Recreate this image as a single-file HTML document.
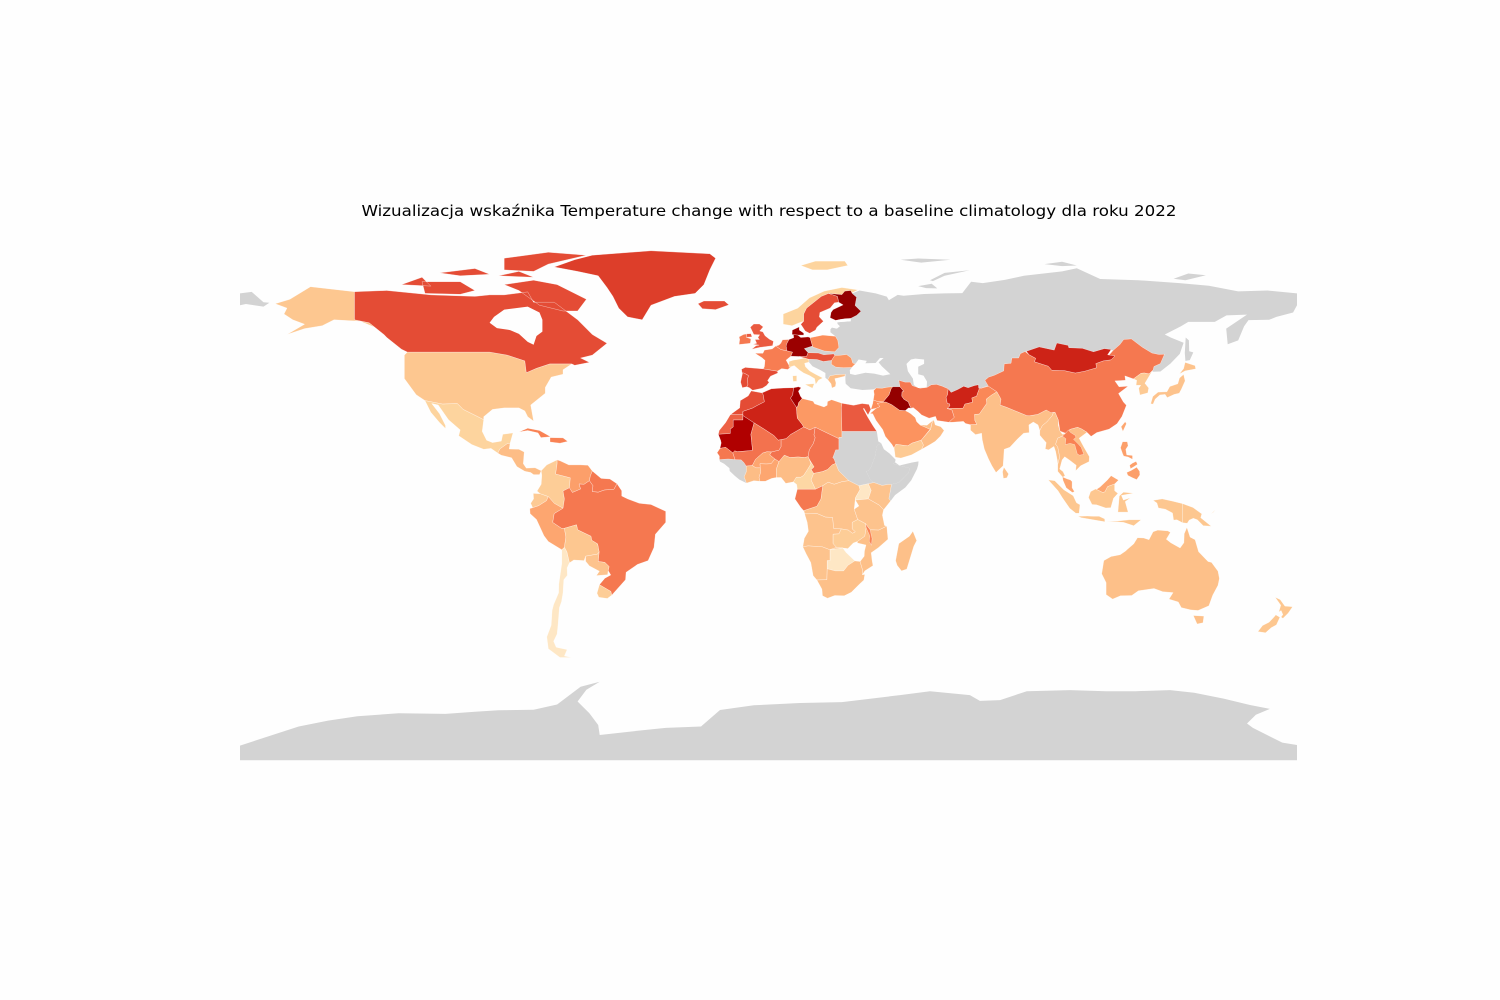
<!DOCTYPE html>
<html><head><meta charset="utf-8"><title>Temperature change map 2022</title>
<style>
html,body{margin:0;padding:0;background:#fefefe;}
svg{display:block;}
</style></head>
<body>
<svg id="chart" width="1500" height="1000" viewBox="0 0 1500 1000" xmlns="http://www.w3.org/2000/svg">
<rect x="0" y="0" width="1500" height="1000" fill="#fefefe"/>
<text x="769" y="216" text-anchor="middle" font-family="DejaVu Sans, Liberation Sans, sans-serif" font-size="15.5" textLength="815" lengthAdjust="spacingAndGlyphs" fill="#000">Wizualizacja wskaźnika Temperature change with respect to a baseline climatology dla roku 2022</text>
<g id="missing"></g>
<g id="countries"></g>
<g id="water"></g>
</svg>
<script>
// ---- data ----
const countryCodes = ["USA","CAN","GRL","MEX","CAM","CUB","HTI","COL","VEN","GUY","ECU","PER","BRA","BOL","PRY","URY","CHL",
"ISL","NOR","SWE","FIN","DNK","GBR","IRL","FRA","BNL","ESP","PRT","DEU","POL","HUN","ROU","ITA","GRC",
"MAR","ESH","DZA","TUN","LBY","EGY","MRT","MLI","NER","TCD","SEN","CIV","BFA","GHA","NGA","CMR","CAF","COG","COD","UGA","KEN","TZA","AGO","ZMB","NAM","BWA","ZAF","MOZ","MWI","MDG",
"SAU","YEM","OMN","IRQ","SYR","JOR","IRN","AFG","PAK","IND","LKA","CHN","MNG","KOR","JPN","TWN","MMR","IDC","LAO","MYS","PHL","IDN","PNG","AUS","NZL"];
const tempValues = [0.95,2.05,2.15,0.75,1.1,1.6,1.6,0.85,1.35,1.7,0.9,1.3,1.7,0.95,1.0,0.85,0.4,
2.05,0.75,2.05,2.85,2.8,1.95,1.7,1.65,1.7,2.05,2.05,2.8,1.5,2.0,1.45,0.75,1.1,
2.05,1.9,2.35,2.75,1.4,1.95,2.65,1.75,1.75,1.75,1.7,1.1,1.3,1.3,1.1,0.7,1.0,1.7,1.0,0.4,1.0,1.0,1.0,0.85,1.0,0.4,1.05,1.05,1.6,1.05,
1.45,0.9,1.1,2.85,1.5,1.5,1.7,2.35,1.55,1.05,1.0,1.7,2.35,0.9,1.0,1.3,1.0,1.05,1.6,1.3,1.35,0.95,0.95,1.05,0.95];
const missingCodes = ["RUS","CHK","SDN","ETH","SOM","GIN","ATA"];
const vMin = 0, vMax = 3;

// ---- geometry (lon, lat) ----
const shapes = {
USA:[[[-124,48],[-123,49],[-95,49],[-89,48],[-83,46],[-82.5,42],[-79,43.5],[-74.5,45],[-70,45],[-67,45],[-70,43],[-70,41.5],[-74,40.5],[-76,37],[-76,35],[-81,31],[-80,25.5],[-82,27],[-83,29],[-85,30],[-90,30],[-94,29.5],[-97,27],[-97,26],[-99,27],[-104,29.5],[-106,31.5],[-111,31.3],[-117,32.5],[-120,34.5],[-124,40]],
 [[-168,65.5],[-163,67],[-156,71.3],[-141,69.6],[-141,60],[-136,59],[-131,55],[-133,57],[-139,59.5],[-148,60],[-152,58],[-158,57],[-164,55],[-158,58.5],[-162,60],[-165,62],[-164,64]]],
CAN:[[[-141,69.6],[-130,70],[-115,68.5],[-100,68],[-95,68.5],[-90,68.5],[-82,69.5],[-80,66],[-73,66],[-65,60],[-60,55],[-55,52],[-60,48],[-64,47],[-61,45.5],[-66,44.5],[-67,45],[-70,45],[-74.5,45],[-79,43.5],[-82.5,42],[-83,46],[-89,48],[-95,49],[-123,49],[-125,50],[-130,54],[-131,55],[-136,59],[-141,60]],
 [[-90,72],[-80,73.5],[-72,72],[-62,67],[-65,63],[-70,63],[-78,65],[-85,70]],
 [[-118,73],[-105,73],[-100,70],[-105,68.7],[-117,69]],
 [[-125,72],[-118,74.5],[-115,71.5]],
 [[-90,77],[-80,76.5],[-75,79],[-62,82],[-75,83],[-90,81]],
 [[-112,76],[-100,77.5],[-95,75.5],[-105,75]],
 [[-92,75],[-80,74.5],[-85,76.5]]],
GRL:[[[-73,78],[-66,80.5],[-60,82],[-40,83.5],[-20,82.5],[-18,81],[-20,77],[-22,72],[-25,69],[-32,68],[-40,65],[-43,60],[-48,61],[-51,64],[-53,68],[-55,71],[-58,75],[-65,76.5]]],
MEX:[[[-117,32.5],[-111,31.3],[-106,31.5],[-104,29.5],[-99,27],[-97,26],[-97.5,22],[-96,19],[-94,18.2],[-91,18.7],[-90.5,21],[-87,21.5],[-88,18],[-89,17.8],[-91.5,16],[-92.2,14.6],[-94.5,16.2],[-97,15.9],[-101,17.5],[-105.5,20.5],[-105,22.5],[-109,26],[-112.5,31],[-114.7,31.5],[-112,28],[-110,24],[-110,23],[-112,25],[-115,28.5]]],
CAM:[[[-92.2,14.6],[-91.5,16],[-89,17.8],[-88,18],[-88.3,16],[-85,15.9],[-83.2,15],[-83.5,11],[-82.5,9.5],[-79.5,9.6],[-77.4,8.6],[-78,7.3],[-80,7.3],[-81,8],[-83,8.4],[-85.7,10],[-87.5,13],[-91,13.9]]],
CUB:[[[-85,21.8],[-82,23.1],[-78,22.3],[-74.2,20.2],[-77.5,19.9],[-78.5,21.5],[-82,22.3]]],
HTI:[[[-74.4,19.9],[-70,19.8],[-68.4,18.6],[-71,18],[-74.4,18.4]]],
COL:[[[-77.4,8.6],[-75.5,10.6],[-72,12.3],[-72,11],[-72.5,7.5],[-67.5,6.2],[-67.8,2.8],[-70,1.7],[-69.5,-1],[-70,-4.2],[-73,-2.5],[-75,-0.2],[-77.8,0.8],[-78.8,1.7],[-77.4,4],[-77.2,7]]],
VEN:[[[-72,12.3],[-71,12],[-68,10.6],[-64,10.6],[-61.5,10.5],[-60,8.5],[-60.7,6.8],[-61,5.2],[-62.8,4],[-64.5,4.1],[-64,2.4],[-66.8,1.2],[-67.8,2.8],[-67.5,6.2],[-72.5,7.5],[-72,11]]],
GUY:[[[-60,8.5],[-57,6],[-54,5.8],[-51.6,4.2],[-52.6,2.3],[-54,2.2],[-56,2],[-58,1.3],[-60,1.5],[-59.8,3.5],[-61,5.2],[-60.7,6.8]]],
ECU:[[[-80.1,0.9],[-77.8,0.8],[-75,-0.2],[-75.6,-1.6],[-78.3,-3.3],[-80.3,-4],[-81,-2.5],[-80,-1]]],
PER:[[[-81.3,-4.3],[-80.3,-4],[-78.3,-3.3],[-75.6,-1.6],[-75,-0.2],[-73,-2.5],[-70,-4.2],[-73,-6],[-73.5,-9],[-70.5,-11],[-69.5,-11],[-69,-14],[-69.5,-17.5],[-70.4,-18.3],[-75,-15.5],[-76.5,-13.5],[-79,-8],[-81.2,-6]]],
BRA:[[[-73.5,-9],[-73,-6],[-70,-4.2],[-69.5,-1],[-70,1.7],[-67.8,2.8],[-66.8,1.2],[-64,2.4],[-64.5,4.1],[-62.8,4],[-61,5.2],[-59.8,3.5],[-60,1.5],[-58,1.3],[-56,2],[-54,2.2],[-52.6,2.3],[-51.6,4.2],[-50,1.8],[-50,0],[-48,-1],[-44,-2.5],[-40,-2.9],[-35,-5.2],[-35,-9],[-38.5,-13],[-39,-17.5],[-41,-22],[-44.6,-23.3],[-48.5,-26],[-48.7,-28.5],[-53.4,-33.8],[-53.7,-32.5],[-57.6,-30.2],[-55.7,-28],[-53.7,-26.9],[-54.6,-25.4],[-54.3,-24],[-55.7,-22.6],[-58,-22.3],[-57.7,-19],[-58.2,-16.3],[-60.2,-15.1],[-60.5,-13.7],[-65,-11.5],[-65.4,-9.8],[-69.5,-11],[-70.5,-11]]],
BOL:[[[-69.5,-11],[-65.4,-9.8],[-65,-11.5],[-60.5,-13.7],[-60.2,-15.1],[-58.2,-16.3],[-57.7,-19],[-58.2,-19.8],[-62.3,-20.5],[-62.8,-22],[-66.3,-21.8],[-67.8,-22.8],[-68.7,-19],[-69.5,-17.5],[-69,-14]]],
PRY:[[[-58.2,-19.8],[-57.7,-19],[-58,-22.3],[-55.7,-22.6],[-54.3,-24],[-54.6,-25.4],[-54.8,-26.8],[-58.6,-27.1],[-57.6,-25.6],[-61,-23.8],[-62.3,-22.2],[-62.3,-20.5]]],
URY:[[[-57.6,-30.2],[-53.7,-32.5],[-53.4,-33.8],[-54.9,-34.9],[-57.8,-34.5],[-58.4,-33.1]]],
CHL:[[[-70.4,-18.3],[-69.5,-17.5],[-68.7,-19],[-67.8,-22.8],[-68.6,-24.5],[-68.5,-27],[-69.7,-28.5],[-70,-33],[-70.5,-36],[-71.2,-38],[-71.7,-44],[-72,-47],[-73.2,-49.5],[-72.3,-51.5],[-68.6,-52.3],[-69.5,-54.5],[-67,-55],[-71,-55],[-75,-52],[-75.5,-48],[-74,-44],[-73.7,-39],[-73.2,-37],[-71.5,-33],[-71.4,-30],[-70.4,-23]]],
ISL:[[[-24,65.5],[-22,66.4],[-15,66.4],[-13.5,65.1],[-18,63.5],[-22.5,63.8]]],
NOR:[[[5,58.5],[5,62],[10,64],[14,67.5],[19,69.8],[25,71],[30.5,70.2],[28,69],[25,68.6],[20.5,69],[18,68],[15.5,66],[13,64],[12,62],[12,59.5],[10.5,59],[8,58]],
 [[11,78.5],[16,80],[26,80],[27,78.5],[20,77],[15,77]]],
SWE:[[[11,58.5],[12.5,56.2],[14,55.4],[16,56.5],[16.5,57.5],[18.7,59.5],[17.3,61],[17.5,62.5],[21,64],[22.5,65.8],[23.9,66],[23.5,68],[20.5,69],[18,68],[15.5,66],[13,64],[12,62],[12,59.5]]],
FIN:[[[21,60.7],[22.9,59.8],[26,60.4],[28,60.5],[30,61.5],[31.5,62.9],[29.5,64.9],[30,67.7],[28.5,69],[28,70],[26,69.8],[25,68.6],[20.5,69],[23.5,68],[23.9,66],[25.4,65.1],[22,63.5],[21.3,62.5]]],
DNK:[[[8,55],[8.1,56.5],[10.5,57.6],[10.5,56.5],[12,55.5],[12,54.8],[10,54.8],[9.5,54.8]]],
GBR:[[[-5.7,50],[-3,50.6],[1.4,51.2],[1.7,52.7],[0.3,53.4],[-1.2,54.6],[-1.9,55.9],[-3,56.2],[-1.8,57.6],[-3.1,58.6],[-5,58.6],[-6.2,57.5],[-5.6,56.3],[-5,55],[-3,54.9],[-3.6,54],[-3.1,53.3],[-4.6,53.3],[-4,52],[-5.3,51.7],[-3.2,51.4],[-4.2,51.2]],
 [[-7.6,54.1],[-5.6,54.2],[-6,55.3],[-7.4,55.2]]],
IRL:[[[-10,51.6],[-6.2,52],[-6,53.5],[-7.6,54.1],[-7.4,55.2],[-8.5,55],[-10,54.2],[-9.8,53.3]]],
FRA:[[[-4.6,48.6],[-1.9,48.6],[-1.4,49.7],[1.3,50.1],[2.5,51.1],[4.2,49.9],[6.2,49.5],[8.2,49],[7.6,47.6],[6,46.3],[6.7,45],[7.5,43.8],[6.5,43.1],[4.5,43.4],[3,42.5],[-1.8,43.3],[-1.4,44],[-1.2,46.2],[-2.2,47.1]]],
BNL:[[[2.5,51.1],[3.6,51.4],[4.2,52],[4.8,53.2],[7,53.3],[6.2,51.8],[6.1,50.8],[6.2,49.5],[4.2,49.9]]],
ESP:[[[-9.2,43.2],[-7.9,43.8],[-1.8,43.3],[3,42.5],[3.2,41.9],[0.7,40.8],[-0.3,39.3],[0.2,38.7],[-0.7,37.6],[-2.1,36.7],[-5.4,36],[-6.5,36.9],[-7.4,37.2],[-7,38],[-7.2,39.7],[-6.8,41],[-8.2,41.8],[-9,41.9]]],
PRT:[[[-8.9,36.9],[-7.4,37.2],[-7,38],[-7.2,39.7],[-6.8,41],[-8.2,41.8],[-8.8,42],[-9.5,38.8]]],
DEU:[[[6,50.8],[6.2,51.8],[7,53.3],[8.6,53.9],[8.5,55],[10,54.8],[11,54],[13.5,54.2],[14.2,53.9],[14.6,52.5],[15,51.1],[12.2,50.2],[13.5,48.8],[13,47.5],[10.5,47.5],[7.6,47.6],[8.2,49],[6.2,49.5],[6.1,50.8]]],
POL:[[[14.2,53.9],[18.5,54.8],[22.8,54.4],[23.6,53],[24,50.6],[22.6,49.1],[19,49.4],[15,50.8],[15,51.1],[14.6,52.5]]],
HUN:[[[10.5,47.5],[13,47.5],[13.5,48.8],[17,48.7],[18.8,48.1],[22.2,48.4],[22.6,47.9],[21.5,46.2],[18.7,45.8],[16.5,46.5],[13.6,46.6],[12.2,47]]],
ROU:[[[22.6,47.9],[24,47.9],[26.6,48.2],[28.2,47],[28.7,45.3],[29.6,45],[28.5,43.8],[25.6,43.7],[22.9,43.9],[21.4,44.9],[21.5,46.2]]],
ITA:[[[7,43.8],[7,45.8],[8.5,46.3],[10.5,46.6],[12.2,47],[13.7,46.5],[13.8,45.6],[12.3,45.2],[12.6,44],[14,42.6],[16,41.5],[18.5,40.2],[17.1,39.5],[16.1,38],[15.7,40],[14,41],[12,41.9],[10.5,42.9],[8.8,44.4]],
 [[12.4,38],[15.6,38.3],[15,36.7]],[[8.2,40.9],[9.6,41],[9.6,39.1],[8.4,39]]],
GRC:[[[20.2,39.6],[20.9,40.9],[22.9,41.3],[26.2,41.5],[26,40.8],[23.6,40.2],[22.6,40],[23,38.5],[22.8,37.3],[21.6,36.8],[21.3,38.2]]],
MAR:[[[-13,27.7],[-9.8,30],[-9.6,32.5],[-6.9,34.1],[-5.9,35.8],[-2.2,35.1],[-1.8,34.5],[-1.4,32.1],[-3.7,30.9],[-5.5,29.9],[-8.7,28.8],[-8.7,27.7]]],
ESH:[[[-17.1,21],[-16.8,22.3],[-14.6,25],[-13,27.7],[-8.7,27.7],[-8.7,25.9],[-12,25.9],[-12,23.5],[-13,22.8],[-13,21.3]]],
DZA:[[[-8.7,28.8],[-5.5,29.9],[-3.7,30.9],[-1.4,32.1],[-1.8,34.5],[-2.2,35.1],[1,36.5],[5,36.8],[8.6,36.9],[8.4,35.5],[8.3,34.5],[7.5,33.3],[9.5,30.2],[9.8,26.5],[11.5,24.4],[12,23.5],[7.5,20.9],[6,19.5],[4.3,19.2],[3.3,19],[1.8,20.6],[-1.5,22.8],[-4.9,24.9],[-8.7,27.4]]],
TUN:[[[8.4,35.5],[8.6,36.9],[10.2,37.2],[11.1,36.9],[10.2,35.7],[10.9,34],[11.5,33.2],[10.3,31.8],[10,30.5],[9.5,30.2],[7.5,33.3],[8.3,34.5]]],
LBY:[[[9.5,30.2],[10,30.5],[10.3,31.8],[11.5,33.2],[15.2,32.3],[15.7,31.4],[18.9,30.3],[20,30.9],[20.1,32.2],[21.5,32.8],[25,31.6],[24.8,30],[25,22],[25,20],[24,20],[24,19.5],[15.9,23.4],[14.1,22.5],[12,23.5],[11.5,24.4],[9.8,26.5]]],
EGY:[[[25,31.6],[29,30.9],[31.9,31.5],[34.2,31.2],[34.9,29.5],[33.9,27.6],[32.5,29.9],[32.3,29.7],[33.8,26.9],[35.6,23.9],[36.9,22],[25,22],[24.8,30]]],
MRT:[[[-17.1,21],[-16.3,19],[-16.1,18.1],[-16.5,16.2],[-14.6,16.6],[-12.2,14.7],[-11.5,15.4],[-10.7,15.1],[-5.5,15.5],[-5.5,16.4],[-6,21],[-4.9,24.9],[-8.7,27.4],[-8.7,25.9],[-12,25.9],[-12,23.5],[-13,22.8],[-13,21.3]]],
MLI:[[[-12.2,14.7],[-11.5,15.4],[-10.7,15.1],[-5.5,15.5],[-5.5,16.4],[-6,21],[-4.9,24.9],[-1.5,22.8],[1.8,20.6],[3.3,19],[4.3,19.2],[4.3,16.8],[3.6,15.6],[1,15],[-0.5,15.1],[-2,14.6],[-4.4,12.5],[-5.5,10.4],[-7.6,10.2],[-8.4,11.4],[-9.3,12.3],[-11.4,12.4]]],
NER:[[[4.3,16.8],[4.3,19.2],[6,19.5],[7.5,20.9],[12,23.5],[14.1,22.5],[15.9,23.4],[15.5,20.8],[15.9,19.9],[15.3,17.9],[13.9,15.7],[13.5,13.4],[12.3,13.1],[10.1,13.3],[7.3,13.1],[5.4,13.9],[3.6,11.7],[2.2,12.6],[0.4,14],[1,15],[3.6,15.6]]],
TCD:[[[15.9,23.4],[24,19.5],[24,15.7],[22.9,15.7],[21.9,13],[22.3,12.7],[22.9,11.1],[21.7,10.6],[20.1,9],[18.4,8.3],[15.4,7.7],[14.5,9],[15.5,9.9],[13.9,12.5],[13.5,13.4],[13.9,15.7],[15.3,17.9],[15.9,19.9],[15.5,20.8]]],
SEN:[[[-17.5,14.7],[-16.5,16.2],[-14.6,16.6],[-12.2,14.7],[-11.4,12.4],[-13.7,12.6],[-16.7,12.4],[-16.7,13.6]]],
GIN:[[[-16.7,12.4],[-13.7,12.6],[-11.4,12.4],[-9.3,12.3],[-8.4,11.4],[-7.6,10.2],[-7.5,8.4],[-8.3,6.5],[-7.5,4.4],[-9.9,5.6],[-11.4,6.8],[-13.2,8.5],[-13.3,9.5],[-15.1,11],[-16.5,11.7]]],
CIV:[[[-7.5,4.4],[-8.3,6.5],[-7.5,8.4],[-7.6,10.2],[-5.5,10.4],[-4.3,9.6],[-2.8,9.6],[-2.6,8.2],[-3.2,6.3],[-2.9,5],[-5,5.2]]],
BFA:[[[-5.5,10.4],[-4.4,12.5],[-2,14.6],[-0.5,15.1],[1,15],[0.4,14],[2.2,12.6],[0.9,11],[-0.8,10.9],[-2.9,11],[-2.8,9.6],[-4.3,9.6]]],
GHA:[[[-2.9,5],[-3.2,6.3],[-2.6,8.2],[-2.8,9.6],[-2.9,11],[-0.8,10.9],[0.9,11],[2.2,12.6],[3.6,11.7],[2.7,9.2],[2.7,6.3],[1.1,6],[-1.1,5]]],
NGA:[[[2.7,6.3],[2.7,9.2],[3.6,11.7],[5.4,13.9],[7.3,13.1],[10.1,13.3],[12.3,13.1],[13.5,13.4],[13.9,12.5],[14.5,11],[13.3,9],[12,7],[11,6.4],[9.5,6.4],[8.5,4.8],[5.9,4.3],[4.3,6.3]]],
CMR:[[[8.5,4.8],[9.5,6.4],[11,6.4],[12,7],[13.3,9],[14.5,11],[13.9,12.5],[15.5,9.9],[14.5,9],[15.4,7.7],[14.5,5.5],[16,2.3],[9.8,2.3],[9.6,3.9]]],
CAF:[[[15.4,7.7],[18.4,8.3],[20.1,9],[21.7,10.6],[22.9,11.1],[23.9,8.6],[27.4,5.2],[25.1,4.9],[22.4,4],[20.3,4.7],[18.5,3.5],[16,2.3],[14.5,5.5]]],
COG:[[[9.8,2.3],[16,2.3],[18.5,3.5],[17.9,-1],[16.5,-3.5],[12,-5],[11,-3.9],[9,-1]]],
COD:[[[18.5,3.5],[20.3,4.7],[22.4,4],[25.1,4.9],[27.4,5.2],[30.8,3.5],[31.2,2.2],[29.6,-0.6],[29.2,-4.5],[30.4,-8],[28.5,-9],[28.5,-11.2],[29.6,-12.2],[28.6,-12.7],[27.2,-11.6],[24.8,-11.2],[22.2,-11.1],[21.8,-7.3],[19.4,-7.2],[16.6,-6],[12.3,-6.1],[12,-5],[16.5,-3.5],[17.9,-1]]],
UGA:[[[30.8,3.5],[34,4.2],[35,1.9],[34,-1],[29.6,-1.4],[29.6,-0.6],[31.2,2.2]]],
KEN:[[[34,4.2],[35.9,4.6],[38.7,3.6],[41,4],[41.9,3.9],[41,-0.9],[41.6,-1.7],[39.2,-4.7],[37.7,-3.1],[34,-1],[35,1.9]]],
TZA:[[[29.6,-1.4],[34,-1],[37.7,-3.1],[39.2,-4.7],[38.8,-6.5],[39.5,-10],[40.3,-10.3],[37.5,-11.6],[34.6,-11.5],[33,-9.4],[30.4,-8],[29.2,-4.5],[30.8,-3.4]]],
AGO:[[[12,-5],[12.3,-6.1],[16.6,-6],[19.4,-7.2],[21.8,-7.3],[22.2,-11.1],[24.8,-11.2],[24,-12.9],[22,-13],[22,-16.2],[23.2,-17.5],[20.9,-18.3],[18.3,-17.3],[13.5,-17],[11.7,-17.3],[12.2,-14.4],[13.6,-12],[13.2,-9],[12.3,-6.1]]],
ZMB:[[[22,-13],[24,-12.9],[24.8,-11.2],[27.2,-11.6],[28.6,-12.7],[29.6,-12.2],[28.5,-11.2],[28.5,-9],[30.4,-8],[33,-9.4],[33.3,-10.8],[32.8,-13.7],[30.3,-15.5],[28.9,-16],[27,-17.9],[25.3,-17.7],[23.2,-17.5],[22,-16.2]]],
NAM:[[[11.7,-17.3],[13.5,-17],[18.3,-17.3],[20.9,-18.3],[23.2,-17.5],[25.3,-17.7],[23.3,-18],[21,-18.3],[21,-22],[20,-22],[20,-24.8],[19.9,-28.5],[16.5,-28.6],[15.2,-27.1],[14.4,-22.7],[12.8,-19.7]]],
BWA:[[[20,-22],[21,-22],[21,-18.3],[23.3,-18],[25.3,-17.7],[26.4,-19.2],[29.4,-22.1],[27.1,-23.6],[25.6,-25.5],[22.8,-25.5],[20,-24.8]]],
ZAF:[[[16.5,-28.6],[19.9,-28.5],[20,-24.8],[22.8,-25.5],[25.6,-25.5],[27.1,-23.6],[29.4,-22.1],[31.2,-22.3],[32,-25],[32,-26.8],[32.8,-26.7],[32.5,-28.6],[31,-30],[28.2,-32.8],[25.8,-34],[22.6,-33.9],[20.1,-34.8],[18.4,-34],[18.2,-31.7]]],
MOZ:[[[30.3,-15.5],[32.8,-13.7],[33.3,-10.8],[33,-9.4],[34.6,-11.5],[37.5,-11.6],[40.3,-10.3],[40.7,-14.7],[37.4,-17.6],[35,-19.3],[35.3,-22],[35.6,-23.7],[32.8,-25.5],[32,-26.8],[32,-25],[31.2,-22.3],[32.6,-20.5],[32.7,-18.7],[33.2,-16.7],[30.3,-16]]],
MWI:[[[33,-9.4],[34.6,-11.5],[35.3,-14.5],[35.1,-16.8],[34.3,-15.4],[34.5,-13.6],[33.3,-10.8]]],
MDG:[[[43.8,-23.6],[45.3,-25.5],[47.1,-24.9],[49.5,-17.1],[50.5,-15.2],[49.2,-12],[48,-13.7],[44.4,-16.2],[43.3,-22]]],
SAU:[[[34.6,28.1],[35.5,28],[36.6,25.8],[38.9,22.6],[39.8,20.3],[42,17.6],[42.8,16.3],[43.4,17.6],[46.4,17.2],[47.5,17.1],[48.8,18],[52,19],[55,22.7],[55.2,22.7],[51.6,24.2],[50.5,25.3],[50,26.7],[48.5,28],[47.7,28.5],[46.6,29.1],[44.7,29.2],[42,31.1],[40,32],[39,32],[37,31.5],[38,30.5],[36.7,29.9]]],
YEM:[[[42.8,16.3],[43.2,13.2],[45.1,12.9],[48.7,14],[52.2,15.9],[52.8,17.3],[52,19],[48.8,18],[47.5,17.1],[46.4,17.2],[43.4,17.6]]],
OMN:[[[52.2,15.9],[55.2,17.6],[56.8,18.6],[58.6,20.4],[59.8,22.3],[58.7,23.6],[56.8,24.2],[56.3,26],[55.7,24.9],[55.2,22.7],[52,19],[52.8,17.3]],
 [[51.6,24.2],[55.2,22.7],[55.7,24.9],[56.3,26],[54,24.1]]],
IRQ:[[[39,32],[40,32],[42,31.1],[44.7,29.2],[46.6,29.1],[47.7,30],[48.6,29.9],[48,31],[47.7,32],[46.1,33],[45.4,34],[45.5,35.5],[46.1,35.7],[44.8,37.2],[42.3,37.2],[41.8,36.6],[41,34.4]]],
SYR:[[[35.7,32.7],[36.8,32.3],[39,32],[41,34.4],[41.8,36.6],[42.3,37.2],[40.7,37.1],[38.7,36.7],[36.7,36.8],[35.8,35.9],[36,34.6]]],
JOR:[[[34.9,29.5],[36.7,29.9],[38,30.5],[37,31.5],[39,32],[36.8,32.3],[35.7,32.7],[35.5,31.5]]],
IRN:[[[44.8,37.2],[44.4,39.4],[46.5,38.8],[48.3,38.8],[49,37.6],[51.6,36.7],[54,37],[55.5,37.9],[57.3,38],[59.2,37.4],[61.2,36.5],[61,34.5],[60.5,33.7],[60.9,31.5],[61.7,31.4],[61.8,30.7],[60.9,29.8],[62.5,29.3],[63.3,26.8],[61.8,25.4],[61.5,25.1],[57.4,25.7],[56.9,27.1],[54.7,26.5],[52.2,27.6],[50.9,28.8],[49.3,30.1],[48.6,29.9],[48,31],[47.7,32],[46.1,33],[45.4,34],[45.5,35.5],[46.1,35.7]]],
AFG:[[[61.2,36.5],[62.2,35.3],[64.5,36.3],[66.5,37.4],[68,36.9],[70.1,37.6],[71.5,37.9],[71.6,36.7],[74.9,37.4],[71.8,36.5],[71.3,35.2],[70.9,34],[69.3,33.4],[69.5,31.9],[66.9,31.3],[66.3,29.9],[60.9,29.8],[61.8,30.7],[61.7,31.4],[60.9,31.5],[60.5,33.7],[61,34.5]]],
PAK:[[[60.9,29.8],[66.3,29.9],[66.9,31.3],[69.5,31.9],[69.3,33.4],[70.9,34],[71.3,35.2],[71.8,36.5],[74.9,37.4],[77.8,35.5],[75.9,34.3],[74.2,33],[74.4,31.6],[71.8,27.9],[70.2,27.8],[70.3,25.7],[71,24.4],[68.8,24.3],[67.1,24.7],[66.4,25.4],[62.5,25.1],[61.5,25.1],[61.8,25.4],[63.3,26.8],[62.5,29.3]]],
IND:[[[68.8,24.3],[71,24.4],[70.3,25.7],[70.2,27.8],[71.8,27.9],[74.4,31.6],[74.2,33],[75.9,34.3],[77.8,35.5],[79.2,33],[78.9,31],[81.1,30.2],[88,27.4],[88.8,27.3],[91.7,27.8],[94.6,29.3],[97,28.3],[96.6,27.3],[94.8,25.2],[93.3,24],[92.4,22.3],[91.8,24.2],[90.2,25.2],[88.7,24.2],[88.8,21.6],[86.9,21.4],[84.8,19.4],[82.2,16.6],[80.3,15.9],[79.9,10.3],[77.5,8],[76.1,10.3],[74.9,12.7],[73.5,16],[72.8,19.2],[72.6,21.4],[70.5,20.9],[68.8,22.4]]],
LKA:[[[79.7,8.2],[80.2,9.8],[81.8,7.5],[81.2,6.2],[80,6]]],
CHN:[[[73.7,39.4],[75,40.5],[76.9,41.1],[80.1,42.6],[80.3,45],[82.6,45.2],[82.9,47],[85.2,47],[85.8,48.5],[87.4,49.2],[88.8,48.1],[91,46.9],[90.6,45.7],[95.3,44.2],[96.5,42.8],[100.8,42.7],[104.5,41.9],[107.7,42.5],[111.8,43.7],[111.5,45.1],[114,46],[116.7,46.4],[118,47.7],[115.7,47.7],[117.4,49.6],[119.7,51.6],[121,53.3],[123.6,53.5],[127.3,50.7],[130.6,48.7],[133,48.2],[134.9,48.3],[133.5,45.1],[131.3,44.1],[131,42.9],[129.6,41.6],[128,41.9],[126.9,41.8],[124.3,39.9],[121.4,40.9],[121.6,39.4],[118,39.2],[119.4,37.2],[122.5,37.4],[119.2,34.9],[120.9,32],[121.9,30.9],[120.4,27.1],[118.7,24.6],[116,22.8],[111.8,21.6],[109.9,20.3],[108.5,21.7],[106.7,22.8],[105.3,23.4],[102.7,22.7],[101.2,21.4],[99.3,22.1],[98.7,25.9],[97.6,28.5],[96.2,28.4],[94.6,29.3],[91.7,27.8],[88.8,27.3],[88,27.4],[81.1,30.2],[78.9,31],[79.2,33],[77.8,35.5],[74.9,37.4]]],
MNG:[[[87.8,49.3],[92.2,50.8],[97.3,49.7],[98.2,52.1],[102.1,51.3],[102.3,50.5],[106.9,50.3],[110.7,49.1],[114.4,50.2],[116.7,49.9],[115.5,48.1],[118,47.7],[116.7,46.4],[114,46],[111.5,45.1],[111.8,43.7],[107.7,42.5],[104.5,41.9],[100.8,42.7],[96.5,42.8],[95.3,44.2],[90.6,45.7],[91,46.9],[88.8,48.1]]],
KOR:[[[124.3,39.9],[126.9,41.8],[128,41.9],[129.6,41.6],[130.6,42.4],[129.7,40.9],[128.2,38.4],[129.5,36.8],[129.2,35.1],[126.5,34.4],[126.1,36.7],[126.8,37.7],[125.2,37.7],[125.4,39.4]]],
JPN:[[[130.2,31.4],[130.9,33.9],[132.7,35.4],[135.7,35.5],[136.7,37.3],[139.4,38.2],[140,40.2],[141.4,41.4],[141.9,39.2],[140.6,36.3],[139.9,35],[138.2,34.6],[135.8,33.5],[135.1,34.6],[133.3,34.4],[131.7,33],[131,31.3]],
 [[140,41.6],[141.9,42.6],[143.9,43],[145.5,43.3],[145.3,44.4],[141.9,45.5],[141.4,43.4]]],
TWN:[[[120.1,23.6],[121.5,25.3],[121.9,24.6],[120.7,22]]],
MMR:[[[92.4,22.3],[93.3,24],[94.8,25.2],[96.6,27.3],[97,28.3],[97.6,28.5],[98.7,25.9],[98.7,24.1],[99.3,22.1],[100.1,21],[101.2,21.4],[100.1,20.4],[98.5,19.7],[97.8,17.6],[98.5,16.8],[99.2,13.3],[98.5,10.7],[98.4,12],[97.8,15.2],[97.2,16.9],[95.4,15.7],[94.3,16],[94.6,18.2],[93.5,19.4],[92.4,20.7]]],
IDC:[[[98.5,10.7],[99.2,13.3],[98.5,16.8],[97.8,17.6],[98.5,19.7],[100.1,20.4],[101.2,21.4],[102.7,22.7],[105.3,23.4],[106.7,22.8],[108.5,21.7],[105.8,19.7],[107.4,16.7],[109.3,13.4],[109.2,11.7],[106.3,10.3],[104.6,8.6],[104.8,10.5],[102.6,12.2],[100.9,13.4],[100,12.3],[99.2,9.2],[100.3,8.3],[101,6.9],[100.2,6.4],[98.5,8.4]]],
LAO:[[[100.1,20.4],[101.2,21.4],[102.2,22.5],[102.8,21.7],[104.5,20.6],[104.7,19.9],[103.9,19.3],[105.6,17.6],[106.5,16.6],[107.4,14.2],[106,13.9],[105.2,14.3],[104.3,17.5],[102.7,17.9],[101.1,17.5],[101.3,19.5]]],
MYS:[[[100.1,6.5],[101.8,5.8],[102.8,5.5],[103.4,4.9],[103.4,2.8],[104.2,1.5],[103.5,1.2],[101.4,2.8],[100.3,5.3]],
 [[109.7,1.5],[111.2,1.9],[113,3.1],[115.4,5.4],[116.7,6.9],[119.2,5.4],[117.9,4.1],[115.5,3.2],[114.6,1.4],[113.8,1.2],[111.4,2.4]]],
PHL:[[[120.6,18.5],[122.2,18.5],[122.5,17.1],[121.7,15.9],[122,14],[124,13.8],[124,12.5],[122.5,13.3],[121,13.6],[120.6,14.4],[119.9,16.4]],
 [[122,8],[123.5,8.7],[125.4,9.8],[126.4,8.4],[126.5,7.2],[125.4,5.6],[124,6.2],[122.4,7]],
 [[123,10.5],[124,11.2],[125.2,11.8],[125.7,10.8],[124.5,10],[123.3,9.3]]],
IDN:[[[95.3,5.5],[97.5,5.2],[100.6,2.1],[103.8,0.1],[104.9,-2.3],[106.1,-3],[105.8,-5.9],[104.7,-5.9],[102.6,-4.2],[100.1,-0.6],[98.6,1.8]],
 [[105.4,-6.9],[108.6,-6.8],[110.5,-6.9],[112.6,-6.9],[114.5,-7.8],[114.6,-8.8],[110.6,-8.1],[106.5,-7.4]],
 [[109.7,1.5],[111.4,2.4],[113.8,1.2],[114.6,1.4],[115.5,3.2],[117.9,4.1],[117.9,1.8],[119,0.9],[117.5,-0.8],[116.6,-4],[114.9,-4.1],[111.7,-3],[110.2,-2.9],[109,-0.5]],
 [[119,-5.5],[119.5,0],[120.9,1.3],[124.4,1],[120.2,0.2],[120.9,-1.4],[123.3,-0.6],[121.5,-1.9],[122.5,-5.5],[120.3,-5.5]],
 [[131,-1.5],[134.1,-1],[137.4,-1.7],[141,-2.6],[141,-9.1],[139.1,-8.1],[138,-8.2],[137.6,-5.8],[135.2,-4.5],[132.8,-4.1],[132.3,-2.4]],
 [[115,-8.5],[119,-8.5],[122.9,-8.1],[126.9,-8.1],[124.4,-10.1],[121,-9]]],
PNG:[[[141,-2.6],[144.6,-3.9],[147.6,-6.1],[147.2,-7.4],[150.8,-10.3],[148.1,-10.1],[146.1,-8.1],[144.7,-7.6],[143.3,-8.2],[142.6,-9.3],[141,-9.1]],
 [[150.7,-6.1],[152.3,-4.7],[151.5,-5.6]]],
AUS:[[[114.2,-22],[113.5,-26.5],[115,-29.5],[115,-33.6],[117.2,-35.1],[119.9,-34],[123.7,-33.9],[126,-32.3],[131.3,-31.5],[134.3,-32.6],[137.8,-32.9],[136.4,-35.1],[139.6,-36.1],[140.6,-38],[143.8,-38.8],[146.3,-39],[150,-37.4],[151.3,-33.8],[153.1,-30.4],[153.6,-28.1],[153.1,-25.6],[150.9,-22.6],[149.7,-22.3],[146.5,-19],[145.3,-14.9],[143.6,-14],[142.5,-10.7],[141.6,-12.9],[141.5,-15.9],[140.2,-17.7],[137,-15.9],[135.5,-14.7],[136.9,-12.4],[136,-11.9],[132.6,-11.6],[131,-12.2],[129.6,-14.9],[127.8,-14.3],[125.7,-14.2],[124.4,-16.3],[122.2,-18.2],[121.7,-18.7],[119.8,-20],[116.7,-20.6]],
 [[144.7,-40.7],[148.3,-40.9],[148,-43.2],[146,-43.6]]],
NZL:[[[172.6,-34.5],[174.3,-35.3],[175.9,-37.5],[178.5,-37.7],[177,-39.9],[175.2,-41.7],[174.6,-41.2],[175.2,-40.4],[174.6,-39],[173.8,-39.5],[174.5,-37.2]],
 [[172.8,-40.5],[174.2,-41.3],[173,-43.9],[171.2,-44.9],[169.3,-46.6],[166.7,-46.2],[168.3,-44.1],[170.5,-43],[172,-41.4]]],
RUS:[[[28,60.5],[30,61.5],[31.5,62.9],[29.5,64.9],[30,67.7],[28.5,69],[31,70],[36.5,69],[40.3,67.9],[41,66.7],[44,68.5],[46,68.2],[53,68.8],[60,69],[66,69.1],[69,73],[73,72.5],[80.5,73.6],[87,75],[100,76.5],[105,77.6],[113,73.9],[126,73.5],[140,72.5],[150,71.6],[160,69.7],[170,70],[180,69],[180,65],[178.7,62.5],[173,61],[170.5,60],[163.5,59.9],[162,57.8],[160,53],[156.4,51.7],[155.9,57],[163,61.8],[156,61.5],[152,59.3],[143,59.3],[140.5,57.8],[135,55],[137,54],[141.4,52.2],[140.1,48.4],[136.9,45.1],[133.5,42.4],[130.8,42.3],[131,42.9],[131.3,44.1],[133.5,45.1],[134.9,48.3],[133,48.2],[130.6,48.7],[127.3,50.7],[123.6,53.5],[121,53.3],[119.7,51.6],[117.4,49.6],[114.4,50.2],[110.7,49.1],[106.9,50.3],[102.3,50.5],[98.2,52.1],[97.3,49.7],[92.2,50.8],[87.8,49.3],[85.8,48.5],[85.2,47],[82.9,47],[82.6,45.2],[80.3,45],[80.1,42.6],[76.9,41.1],[75,40.5],[73.7,39.4],[74.9,37.4],[71.6,36.7],[71.5,37.9],[70.1,37.6],[68,36.9],[66.5,37.4],[64.5,36.3],[62.2,35.3],[61.2,36.5],[59.2,37.4],[57.3,38],[55.5,37.9],[54,37],[51.6,36.7],[49,37.6],[48.3,38.8],[46.5,38.8],[44.4,39.4],[44.8,37.2],[42.3,37.2],[40.7,37.1],[38.7,36.7],[36.7,36.8],[35.8,36.3],[32,36.1],[28,36.7],[26.3,38.2],[26.2,39.5],[26.2,41.5],[22.9,41.3],[20.9,40.9],[20.2,39.6],[19.4,40.3],[19.4,41.9],[17.6,42.9],[15,44.2],[13.8,45.6],[13.7,46.5],[16.5,46.5],[18.7,45.8],[21.5,46.2],[21.4,44.9],[22.9,43.9],[25.6,43.7],[28.5,43.8],[29.6,45],[28.7,45.3],[28.2,47],[26.6,48.2],[24,47.9],[22.6,47.9],[22.2,48.4],[18.8,48.1],[17,48.7],[13.5,48.8],[12.2,50.2],[15,51.1],[15,50.8],[19,49.4],[22.6,49.1],[24,50.6],[23.6,53],[22.8,54.4],[21.1,55.8],[21.1,56.8],[21.6,57.4],[23.3,57],[24.3,57.8],[23.5,58.6],[23.4,59.2],[28,59.5]],
 [[51,71.5],[55.6,72.3],[57.5,70.7],[53.7,70.8]],[[55,73.5],[60,76],[68.5,76.9],[60,75],[56,73.2]],
 [[45,80.5],[51,80.9],[62,80.5],[52,79.5]],[[94,79],[100,79.8],[105,78.5],[100,78.3]],[[138,74],[143,75.8],[149,75.2],[142,73.5]],
 [[142.1,54],[143.2,53],[143.3,49.3],[144.7,48.9],[143.5,46.3],[142,46],[141.8,48.7]]],
CHK:[[[-180,69],[-176,69.5],[-172,66],[-170,65.8],[-172,64.5],[-178,65.4],[-180,65]]],
SDN:[[[24,19.5],[24,20],[25,20],[25,22],[36.9,22],[37.4,18.6],[38.4,18],[37,17.3],[36.4,14.4],[36.3,13.6],[35,10],[34.1,8.6],[33.2,8.4],[34.8,5.3],[35.9,4.6],[34,4.2],[30.8,3.5],[27.4,5.2],[23.9,8.6],[22.9,11.1],[22.3,12.7],[21.9,13],[22.9,15.7],[24,15.7]]],
ETH:[[[36.4,14.4],[37,17.3],[38.4,18],[39.3,15.9],[41.2,14.5],[43.3,12.4],[43.1,11.5],[42.5,11],[44.2,10.5],[48,9.5],[47.8,8],[44.5,4.6],[42,4],[41.9,3.9],[41,4],[38.7,3.6],[35.9,4.6],[34.8,5.3],[33.2,8.4],[34.1,8.6],[35,10],[36.3,13.6]]],
SOM:[[[42.5,11],[43.1,11.5],[44.6,10.4],[48.9,11.4],[51.1,11.8],[51,10.6],[50.6,9.2],[48.6,5.3],[46.6,2.9],[43.1,0.3],[41.6,-1.7],[41,-0.9],[41.9,3.9],[42,4],[44.5,4.6],[47.8,8],[48,9.5],[44.2,10.5]]],
ATA:[[[-180,-85],[-160,-78.5],[-150,-76.5],[-140,-75],[-126,-74],[-110,-74.2],[-100,-73.5],[-92,-73],[-80,-72.8],[-72,-71],[-64,-65],[-57.5,-63.3],[-62,-66],[-65,-70],[-61,-74],[-58,-78],[-57.5,-81.4],[-45,-80],[-35,-79],[-23,-78.5],[-16.5,-72.9],[-5,-71.3],[10.7,-70.5],[25,-70.2],[35,-69],[44.8,-67.8],[55,-66.5],[68.6,-67.8],[72,-69.8],[78.9,-69.5],[88,-66.5],[102.7,-66.1],[115,-66.5],[125,-66.5],[136.8,-66.1],[145,-67],[155,-69],[164,-71.2],[170.8,-72.5],[166,-74.5],[163,-77.5],[165,-79],[175,-84],[180,-84.8],[180,-90],[-180,-90]]]
};
const lakes = {
HUDSON:[[-95,59],[-93.5,61],[-90,63.5],[-86,64],[-82,64.5],[-78,62.5],[-77,60],[-77,56],[-79,54.5],[-80,51.5],[-82,52.5],[-85,55.2],[-88,56.5],[-92.5,57.2]],
CASPIAN:[[47,45],[48.5,46.5],[50,46.8],[53,46.5],[53,45],[51,44],[51,41.5],[52.8,41],[54,39],[53.9,37],[51,36.8],[49.5,37.8],[49.2,40],[47.5,42.5]],
BLACK:[[27.8,41.6],[27.7,42.8],[28.7,44.2],[29.6,45],[30.7,46.5],[33.5,46],[33,45.2],[36.5,45.3],[38,47],[39.2,47],[37.5,45.5],[38.6,44.2],[41.5,41.5],[39,41],[36,41.7],[33,42],[29.5,41.2]],
BALTIC:[[21.1,56.8],[21.6,57.4],[23.3,57],[24.3,57.8],[23.5,58.6],[23.4,59.2],[28,59.5],[28,60.5],[24.5,60.2],[22.9,59.8],[20,59],[19,57],[21,56]]
};

// ---- projection & colour scale ----
const X0 = 240, Y0 = 496, K = 2.936;
function xScale(lon){ return X0 + (lon + 180) * K; }
function yScale(lat){ return Y0 - lat * K; }
const stops = ["#fff7ec","#fee8c8","#fdd49e","#fdbb84","#fc8d59","#ef6548","#d7301f","#b30000","#7f0000"];
function hex(c){ return [parseInt(c.slice(1,3),16),parseInt(c.slice(3,5),16),parseInt(c.slice(5,7),16)]; }
function colorScale(v){
  let t = Math.max(0, Math.min(1, (v - vMin) / (vMax - vMin))) * (stops.length - 1);
  const i = Math.min(stops.length - 2, Math.floor(t)), f = t - i;
  const a = hex(stops[i]), b = hex(stops[i+1]);
  return "rgb(" + a.map((c,k)=>Math.round(c + (b[k]-c)*f)).join(",") + ")";
}
function pathFor(polys){
  return polys.map(p => "M" + p.map(q => xScale(q[0]).toFixed(1) + "," + yScale(q[1]).toFixed(1)).join("L") + "Z").join("");
}
const NS = "http://www.w3.org/2000/svg";
const gMissing = document.getElementById("missing");
const gCountries = document.getElementById("countries");
const gWater = document.getElementById("water");

missingCodes.forEach(code => {
  const el = document.createElementNS(NS, "path");
  el.setAttribute("d", pathFor(shapes[code]));
  el.setAttribute("fill", "#d3d3d3");
  
  
  gMissing.appendChild(el);
});
countryCodes.forEach((code, i) => {
  const el = document.createElementNS(NS, "path");
  el.setAttribute("d", pathFor(shapes[code]));
  el.setAttribute("fill", colorScale(tempValues[i]));
  el.setAttribute("stroke", "#ffffff");
  el.setAttribute("stroke-width", "0.3");
  
  
  gCountries.appendChild(el);
});
Object.keys(lakes).forEach(k => {
  const el = document.createElementNS(NS, "path");
  el.setAttribute("d", pathFor([lakes[k]]));
  el.setAttribute("fill", "#fefefe");
  
  
  gWater.appendChild(el);
});
</script>
</body></html>
